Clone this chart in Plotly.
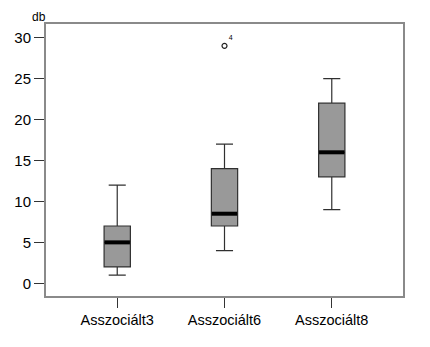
import plotly.graph_objects as go

categories = ["Asszociált3", "Asszociált6", "Asszociált8"]
lower = [1, 4, 9]
q1 = [2, 7, 13]
median = [5, 8.5, 16]
q3 = [7, 14, 22]
upper = [12, 17, 25]
outlier_cat = [1]
outlier_val = [29]
outlier_lbl = ["4"]
yticks = [0, 5, 10, 15, 20, 25, 30]

pos = list(range(len(categories)))
box_w = 0.245

fig = go.Figure()
fig.add_trace(go.Box(
    x=pos, q1=q1, median=median, q3=q3, lowerfence=lower, upperfence=upper,
    width=box_w, whiskerwidth=0.65, fillcolor="#999999",
    line=dict(color="#303030", width=1.2), boxpoints=False, showlegend=False,
    hoverinfo="skip"))

mx, my = [], []
for p, m in zip(pos, median):
    mx += [p - box_w / 2 + 0.004, p + box_w / 2 - 0.004, None]
    my += [m, m, None]
fig.add_trace(go.Scatter(x=mx, y=my, mode="lines",
                         line=dict(color="black", width=4), showlegend=False,
                         hoverinfo="skip"))

fig.add_trace(go.Scatter(
    x=[pos[i] for i in outlier_cat], y=outlier_val, mode="markers+text",
    marker=dict(symbol="circle-open", size=5, color="#222",
                line=dict(width=1.2, color="#222")),
    text=outlier_lbl, textposition="top right",
    textfont=dict(size=7, color="black", family="Liberation Sans, Arial"),
    showlegend=False, hoverinfo="skip"))

fig.add_annotation(text="db", x=0, xref="paper", xanchor="right", xshift=2,
                   y=1, yref="paper", yanchor="bottom", yshift=-2,
                   showarrow=False,
                   font=dict(size=12, color="black", family="Liberation Sans, Arial"))

fig.update_layout(
    width=430, height=347,
    margin=dict(l=46, r=27, t=24, b=51),
    paper_bgcolor="white", plot_bgcolor="white",
    font=dict(family="Liberation Sans, Arial", color="black"),
    xaxis=dict(range=[-0.664, 2.664], tickvals=pos, ticktext=categories,
               ticks="outside", ticklen=10, tickcolor="#333", tickwidth=1.2,
               showgrid=False, zeroline=False, showline=True, linecolor="#8a8a8a",
               linewidth=2, mirror=True, tickfont=dict(size=14.5), fixedrange=True),
    yaxis=dict(range=[-1.55, 31.67], tickvals=yticks,
               ticks="outside", ticklen=10, tickcolor="#333", tickwidth=1.2,
               showgrid=False, zeroline=False, showline=True, linecolor="#8a8a8a",
               linewidth=2, mirror=True, tickfont=dict(size=15), fixedrange=True),
)

fig.write_html("out.html")
